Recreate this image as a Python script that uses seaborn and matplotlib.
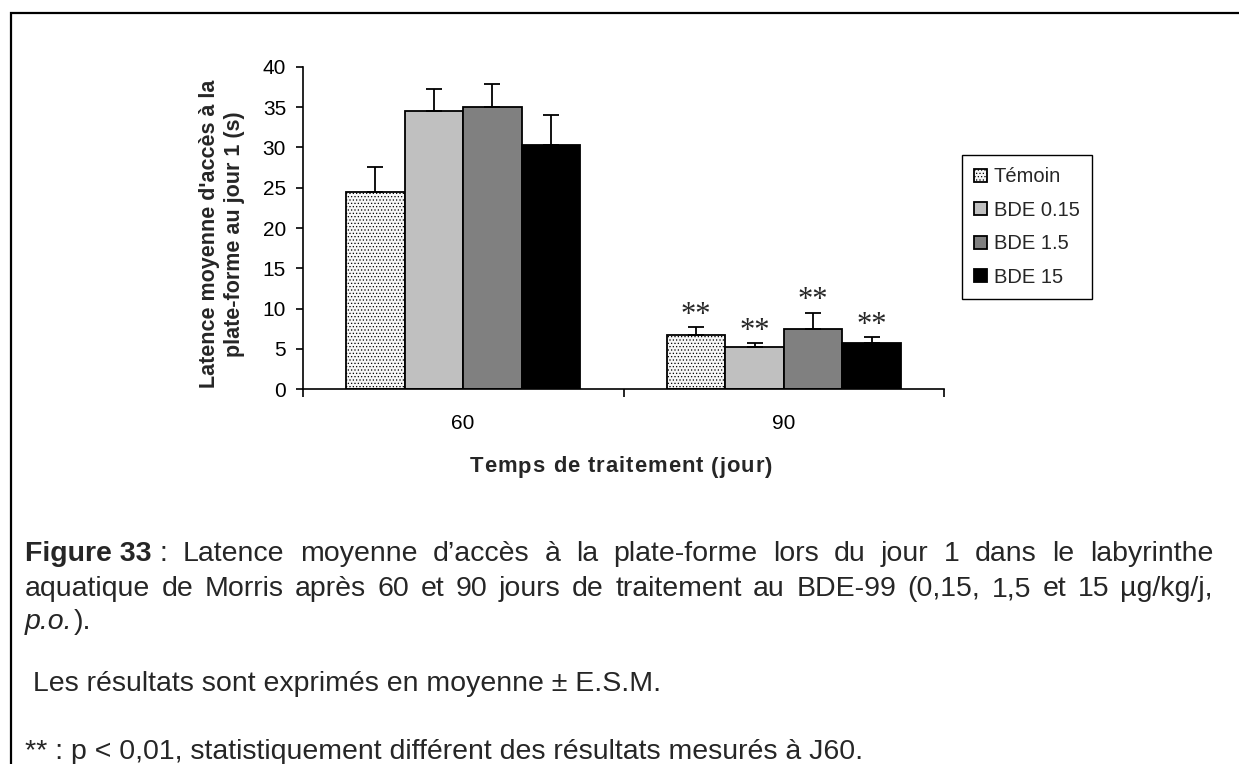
"""Latence moyenne d'accès à la plate-forme (jour 1), BDE-99, J60 / J90."""
import matplotlib
matplotlib.use('Agg')
import matplotlib.pyplot as plt
from matplotlib.patches import Rectangle
import numpy as np
import pandas as pd
import seaborn as sns

# Data
days = ['60', '90']
groups = ['Témoin', 'BDE 0.15', 'BDE 1.5', 'BDE 15']
means_60 = [24.5, 34.5, 35.0, 30.3]
means_90 = [6.7, 5.25, 7.5, 5.8]
sem_60 = [3.1, 2.7, 2.8, 3.7]
sem_90 = [1.0, 0.5, 2.0, 0.7]
signif_90 = ['**', '**', '**', '**']
bar_colors = ['#f6f6f6', '#c0c0c0', '#808080', '#000000']
y_ticks = [0, 5, 10, 15, 20, 25, 30, 35, 40]

y_label = "Latence moyenne d'accès à la\nplate-forme au jour 1 (s)"
x_label = "Temps de traitement (jour)"
caption_1 = "Latence moyenne d’accès à la plate-forme lors du jour 1 dans le labyrinthe"
caption_2 = "aquatique de Morris après 60 et 90 jours de traitement au BDE-99 (0,15, 1,5 et 15 µg/kg/j,"
caption_4 = " Les résultats sont exprimés en moyenne ± E.S.M."
caption_5 = "** : p < 0,01, statistiquement différent des résultats mesurés à J60."

W, H = 1239, 764

sns.set_theme(style='white')
plt.rcParams['font.family'] = ['Liberation Sans', 'DejaVu Sans']
plt.rcParams['hatch.linewidth'] = 0.5

fig = plt.figure(figsize=(W / 100, H / 100), dpi=100)
fig.patch.set_facecolor('white')
ax = fig.add_axes([302.7 / W, 1 - 389.3 / H, 641.6 / W, 322.6 / H])

df = pd.DataFrame({
    'jour': np.repeat(days, len(groups)),
    'groupe': groups * len(days),
    'latence': means_60 + means_90,
    'esm': sem_60 + sem_90,
})

sns.barplot(data=df, x='jour', y='latence', hue='groupe', order=days,
            hue_order=groups, palette=bar_colors, width=0.73, errorbar=None,
            saturation=1, edgecolor='black', linewidth=1.3, legend=False, ax=ax)
bar_conts = list(ax.containers)

# stippled control bars
for bar in bar_conts[0]:
    bar.set_hatch('.....')

# upper error bars + significance stars
stars = dict(zip(groups, signif_90))
for cont, g in zip(bar_conts, groups):
    for bar in cont:
        xc = bar.get_x() + bar.get_width() / 2
        day = days[int(round(xc))]
        row = df[(df['jour'] == day) & (df['groupe'] == g)].iloc[0]
        top = row['latence'] + row['esm']
        ax.errorbar(xc, row['latence'], yerr=[[0], [row['esm']]], fmt='none',
                    ecolor='black', elinewidth=1.3, capsize=6, capthick=1.3,
                    zorder=1)
        if day == '90' and stars[g]:
            ax.annotate(stars[g], xy=(xc, top), xytext=(0, -2),
                        textcoords='offset points', ha='center', va='bottom',
                        fontsize=22, family='Liberation Serif')

ax.set_ylim(0, 40)
ax.set_yticks(y_ticks)
ax.set_xlim(-0.5, 1.5)
ax.set_xticks([0, 1])
ax.set_xticklabels(days)
ax.set_xticks([-0.5, 0.5, 1.5], minor=True)
ax.tick_params(axis='x', which='major', length=0, pad=18, labelsize=15,
               bottom=True, colors='black')
ax.tick_params(axis='x', which='minor', length=6, width=1.2, direction='out',
               bottom=True, color='black')
ax.tick_params(axis='y', length=5, width=1.2, pad=7, labelsize=15,
               direction='out', left=True, colors='black')
ax.set_xlabel('')
ax.set_ylabel('')
for side in ['top', 'right']:
    ax.spines[side].set_visible(False)
for side in ['left', 'bottom']:
    ax.spines[side].set_color('black')
    ax.spines[side].set_linewidth(1.2)

renderer = fig.canvas.get_renderer()

fig.text(222 / W, 1 - 234 / H, y_label, rotation=90, ha='center', va='center',
         multialignment='center', fontsize=15.5, fontweight='bold',
         linespacing=1.25)


def spaced_text(text, xc, y, track, **kw):
    """Letter-spaced single line, centred on xc (pixels)."""
    arts = [fig.text(0, 1 - y / H, ch, va='center', ha='left', **kw)
            for ch in text]
    widths = [a.get_window_extent(renderer).width for a in arts]
    total = sum(widths) + track * (len(arts) - 1)
    x = xc - total / 2
    for a, w in zip(arts, widths):
        a.set_x(x / W)
        x += w + track


spaced_text(x_label, 621, 467, 1.0, fontsize=15.8, fontweight='bold')

handles = [c.patches[0] for c in bar_conts]
leg = ax.legend(handles, groups, loc='center',
                bbox_to_anchor=(1027 / W, 1 - 227 / H),
                bbox_transform=fig.transFigure, frameon=True, fancybox=False,
                framealpha=1, edgecolor='black', fontsize=14.5,
                handlelength=0.6, handleheight=0.6, labelspacing=0.72,
                handletextpad=0.35, borderpad=0.6)
leg.get_frame().set_linewidth(1.0)

# page frame
fig.add_artist(Rectangle((11 / W, -0.1), 1.2, 1 - 13 / H + 0.1,
                         transform=fig.transFigure, fill=False,
                         edgecolor='black', linewidth=1.6))

# caption
cap_size = 20.5


def justified_line(units, y, x0=25, x1=1213):
    """units: list of words, each a list of (text, weight, style) pieces."""
    placed = []
    for unit in units:
        pieces = []
        for txt, wt, st in unit:
            a = fig.text(0, 1 - y / H, txt, fontsize=cap_size, fontweight=wt,
                         fontstyle=st, va='baseline', ha='left')
            pieces.append((a, a.get_window_extent(renderer).width))
        placed.append(pieces)
    unit_w = [sum(w for _, w in p) for p in placed]
    gap = (x1 - x0 - sum(unit_w)) / (len(placed) - 1)
    x = x0
    for pieces, uw in zip(placed, unit_w):
        xx = x
        for a, w in pieces:
            a.set_x(xx / W)
            xx += w
        x += uw + gap


line1 = [[('Figure 33', 'bold', 'normal'), (' :', 'normal', 'normal')]] + \
    [[(w, 'normal', 'normal')] for w in caption_1.split(' ')]
justified_line(line1, 561)
justified_line([[(w, 'normal', 'normal')] for w in caption_2.split(' ')], 596)

po = fig.text(25 / W, 1 - 629 / H, 'p.o.', fontsize=cap_size,
              fontstyle='italic', va='baseline', ha='left')
po_w = po.get_window_extent(renderer).width
fig.text((25 + po_w + 1) / W, 1 - 629 / H, ').', fontsize=cap_size,
         va='baseline', ha='left')

fig.text(25 / W, 1 - 691 / H, caption_4, fontsize=cap_size, va='baseline',
         ha='left')
fig.text(25 / W, 1 - 759 / H, caption_5, fontsize=cap_size, va='baseline',
         ha='left')

fig.savefig('out.png', dpi=100)
